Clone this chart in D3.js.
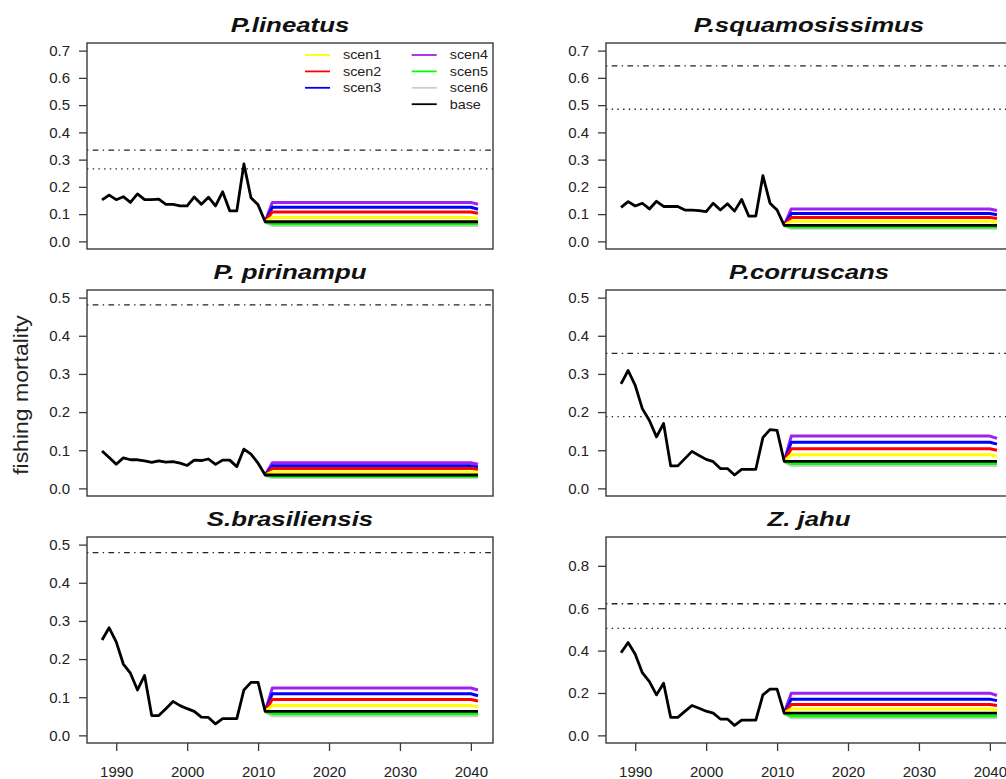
<!DOCTYPE html>
<html>
<head>
<meta charset="utf-8">
<script src="https://cdn.jsdelivr.net/npm/d3@7"></script>
<style>
  body { margin: 0; background: #fff; }
  svg { display: block; font-family: 'Liberation Sans', Arial, sans-serif; }
</style>
</head>
<body>
<script>
// --- data ---
const species = ['P.lineatus', 'P.squamosissimus', 'P. pirinampu', 'P.corruscans', 'S.brasiliensis', 'Z. jahu'];
const scenNames = ['scen1', 'scen2', 'scen3', 'scen4', 'scen5', 'scen6', 'base'];
const histYears = [1988, 1989, 1990, 1991, 1992, 1993, 1994, 1995, 1996, 1997, 1998, 1999,
  2000, 2001, 2002, 2003, 2004, 2005, 2006, 2007, 2008, 2009, 2010, 2011];
// projection: 2011 = last estimate, 2012..2040 plateau, 2041 end value
const projYears = [2011, 2012, 2040, 2041];

const fLineatus = [0.152, 0.170, 0.153, 0.164, 0.143, 0.174, 0.153, 0.153, 0.155, 0.136, 0.136, 0.130,
  0.130, 0.163, 0.136, 0.162, 0.130, 0.182, 0.112, 0.112, 0.284, 0.160, 0.134, 0.072];
const fSquamosissimus = [0.125, 0.146, 0.130, 0.140, 0.119, 0.147, 0.128, 0.128, 0.128, 0.115, 0.115, 0.113,
  0.109, 0.140, 0.115, 0.138, 0.111, 0.154, 0.093, 0.093, 0.241, 0.140, 0.115, 0.059];
const fPirinampu = [0.098, 0.081, 0.063, 0.080, 0.075, 0.075, 0.072, 0.068, 0.072, 0.069, 0.070, 0.066,
  0.060, 0.074, 0.073, 0.077, 0.063, 0.074, 0.074, 0.057, 0.103, 0.090, 0.066, 0.035];
const fCorruscans = [0.274, 0.309, 0.270, 0.209, 0.178, 0.135, 0.170, 0.059, 0.059, 0.078, 0.097, 0.086,
  0.076, 0.070, 0.052, 0.052, 0.035, 0.050, 0.050, 0.050, 0.133, 0.154, 0.152, 0.071];
const fBrasiliensis = [0.250, 0.282, 0.245, 0.187, 0.163, 0.119, 0.157, 0.052, 0.052, 0.070, 0.089, 0.078,
  0.070, 0.063, 0.048, 0.047, 0.030, 0.044, 0.044, 0.044, 0.119, 0.139, 0.139, 0.063];
const fJahu = [0.390, 0.438, 0.383, 0.296, 0.254, 0.191, 0.246, 0.085, 0.085, 0.113, 0.141, 0.128,
  0.114, 0.105, 0.077, 0.077, 0.047, 0.072, 0.072, 0.072, 0.191, 0.218, 0.218, 0.105];

// scen1..scen6 plateau (2012-2040) and 2041 values
const plateauLineatus = [0.088, 0.108, 0.125, 0.143, 0.065, 0.060];
const endLineatus = [0.084, 0.103, 0.118, 0.136, 0.065, 0.060];
const plateauSquamosissimus = [0.074, 0.088, 0.102, 0.119, 0.053, 0.050];
const endSquamosissimus = [0.070, 0.084, 0.098, 0.113, 0.053, 0.050];
const plateauPirinampu = [0.043, 0.052, 0.059, 0.067, 0.032, 0.030];
const endPirinampu = [0.041, 0.050, 0.056, 0.063, 0.032, 0.030];
const plateauCorruscans = [0.088, 0.104, 0.121, 0.137, 0.065, 0.061];
const endCorruscans = [0.084, 0.100, 0.116, 0.131, 0.065, 0.061];
const plateauBrasiliensis = [0.078, 0.094, 0.109, 0.124, 0.057, 0.053];
const endBrasiliensis = [0.075, 0.090, 0.104, 0.119, 0.057, 0.053];
const plateauJahu = [0.124, 0.146, 0.171, 0.199, 0.091, 0.085];
const endJahu = [0.119, 0.141, 0.164, 0.188, 0.091, 0.085];

// reference points: dash-dot and dotted lines (null = none)
const refDashDot = [0.335, 0.644, 0.481, 0.354, 0.479, 0.621];
const refDotted = [0.266, 0.485, null, 0.188, null, 0.505];

const yMax = [0.7, 0.7, 0.5, 0.5, 0.5, 0.9];
const ticks07 = [0, 0.1, 0.2, 0.3, 0.4, 0.5, 0.6, 0.7];
const ticks05 = [0, 0.1, 0.2, 0.3, 0.4, 0.5];
const ticks08 = [0, 0.2, 0.4, 0.6, 0.8];
const yearTicks = [1990, 2000, 2010, 2020, 2030, 2040];

const scenColors = ['#ffff00', '#ff0000', '#0000ff', '#a020f0', '#00ff00', '#cccccc', '#000000'];

// --- layout ---
const W = 1006, Hsvg = 779;
const boxW = 406, boxH = 206;
const colX = [87, 606];
const rowY = [43, 290, 537];

const panels = [
  { hist: fLineatus, plat: plateauLineatus, end: endLineatus, ticks: ticks07 },
  { hist: fSquamosissimus, plat: plateauSquamosissimus, end: endSquamosissimus, ticks: ticks07 },
  { hist: fPirinampu, plat: plateauPirinampu, end: endPirinampu, ticks: ticks05 },
  { hist: fCorruscans, plat: plateauCorruscans, end: endCorruscans, ticks: ticks05 },
  { hist: fBrasiliensis, plat: plateauBrasiliensis, end: endBrasiliensis, ticks: ticks05 },
  { hist: fJahu, plat: plateauJahu, end: endJahu, ticks: ticks08 }
];

let svg = d3.select('body').append('svg')
  .attr('width', W)
  .attr('height', Hsvg);

let yearExt = [histYears[0], projYears[projYears.length - 1]];
let yearPad = (yearExt[1] - yearExt[0]) * 0.04;

panels.forEach(function (p, i) {
  let x0 = colX[i % 2], y0 = rowY[Math.floor(i / 2)];
  let x = d3.scaleLinear()
    .domain([yearExt[0] - yearPad, yearExt[1] + yearPad])
    .range([x0, x0 + boxW]);
  let y = d3.scaleLinear()
    .domain([-0.04 * yMax[i], 1.04 * yMax[i]])
    .range([y0 + boxH, y0]);

  let g = svg.append('g').attr('class', 'panel');
  let line = d3.line()
    .x(function (d) { return x(d[0]); })
    .y(function (d) { return y(d[1]); });

  // reference lines
  g.append('line')
    .attr('x1', x0).attr('x2', x0 + boxW)
    .attr('y1', y(refDashDot[i])).attr('y2', y(refDashDot[i]))
    .attr('stroke', '#222').attr('stroke-width', 1.4)
    .attr('stroke-dasharray', '1.4,4.3,5.7,4.3');
  if (refDotted[i] !== null) {
    g.append('line')
      .attr('x1', x0).attr('x2', x0 + boxW)
      .attr('y1', y(refDotted[i])).attr('y2', y(refDotted[i]))
      .attr('stroke', '#222').attr('stroke-width', 1.4)
      .attr('stroke-dasharray', '1.4,4.3');
  }

  let last = p.hist[p.hist.length - 1];

  // scenarios, drawn scen6 first so the brighter ones sit on top
  [5, 4, 3, 2, 1, 0].forEach(function (s) {
    let vals = [last, p.plat[s], p.plat[s], p.end[s]];
    g.append('path')
      .datum(projYears.map(function (yr, k) { return [yr, vals[k]]; }))
      .attr('fill', 'none')
      .attr('stroke', scenColors[s])
      .attr('stroke-width', s === 5 ? 4 : 3)
      .attr('stroke-linejoin', 'round')
      .attr('d', line);
  });

  // base: history then flat at last estimate
  let basePts = histYears.map(function (yr, k) { return [yr, p.hist[k]]; });
  basePts.push([projYears[projYears.length - 1], last]);
  g.append('path')
    .datum(basePts)
    .attr('fill', 'none')
    .attr('stroke', '#000')
    .attr('stroke-width', 2.8)
    .attr('stroke-linejoin', 'round')
    .attr('d', line);

  // box
  g.append('rect')
    .attr('x', x0).attr('y', y0)
    .attr('width', boxW).attr('height', boxH)
    .attr('fill', 'none')
    .attr('stroke', '#3a3a3a')
    .attr('stroke-width', 1.4);

  // y axis
  let yAxis = d3.axisLeft(y)
    .tickValues(p.ticks)
    .tickFormat(d3.format('.1f'))
    .tickSize(8)
    .tickPadding(9);
  let ya = g.append('g')
    .attr('transform', 'translate(' + x0 + ',0)')
    .call(yAxis);
  ya.select('.domain').remove();
  ya.selectAll('line').attr('stroke', '#3a3a3a').attr('stroke-width', 1.3);
  ya.selectAll('text').attr('fill', '#222').style('font-size', '15px');

  // x axis on bottom row only
  if (i >= 4) {
    let xAxis = d3.axisBottom(x)
      .tickValues(yearTicks)
      .tickFormat(d3.format('d'))
      .tickSize(8)
      .tickPadding(15);
    let xa = g.append('g')
      .attr('transform', 'translate(0,' + (y0 + boxH) + ')')
      .call(xAxis);
    xa.select('.domain').remove();
    xa.selectAll('line').attr('stroke', '#3a3a3a').attr('stroke-width', 1.3);
    xa.selectAll('text').attr('fill', '#222').style('font-size', '15px');
  }

  // title
  g.append('text')
    .attr('transform', 'translate(' + (x0 + boxW / 2) + ',' + (y0 - 11) + ') scale(1.23,1)')
    .attr('text-anchor', 'middle')
    .style('font-size', '21px')
    .style('font-weight', 'bold')
    .style('font-style', 'italic')
    .attr('fill', '#111')
    .text(species[i]);

  // legend in the first panel
  if (i === 0) {
    let legItems = [0, 1, 2, 3, 4, 5, 6];
    let leg = g.append('g').attr('id', 'legend');
    let items = leg.selectAll('g')
      .data(legItems)
      .enter()
      .append('g')
      .attr('transform', function (d) {
        let col = d < 3 ? 0 : 1;
        let row = d < 3 ? d : d - 3;
        return 'translate(' + (x0 + 218 + col * 106.7) + ',' + (y0 + 12 + row * 16.4) + ')';
      });
    items.append('line')
      .attr('x1', 0).attr('x2', 25)
      .attr('y1', 0).attr('y2', 0)
      .attr('stroke', function (d) { return scenColors[d]; })
      .attr('stroke-width', 1.8);
    items.append('text')
      .attr('transform', 'translate(38,0) scale(1.15,1)')
      .attr('dy', '0.35em')
      .style('font-size', '12.5px')
      .attr('fill', '#222')
      .text(function (d) { return scenNames[d]; });
  }
});

// shared y label
svg.append('text')
  .attr('transform', 'translate(28,395) rotate(-90) scale(1.15,1)')
  .attr('text-anchor', 'middle')
  .style('font-size', '20px')
  .attr('fill', '#222')
  .text('fishing mortality');
</script>
</body>
</html>
